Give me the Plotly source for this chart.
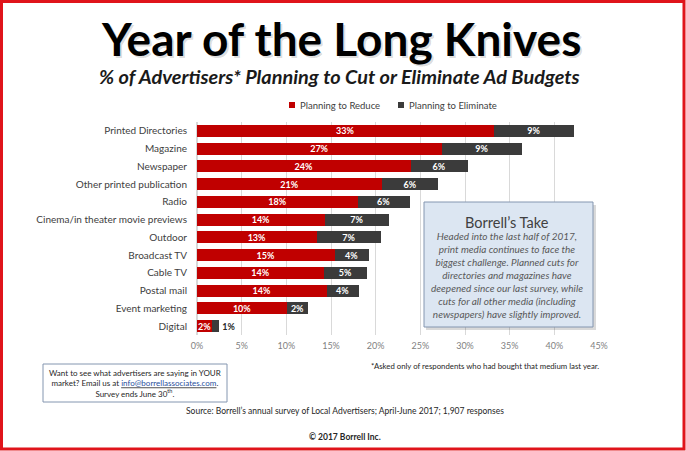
import plotly.graph_objects as go

media = [
    "Printed Directories",
    "Magazine",
    "Newspaper",
    "Other printed publication",
    "Radio",
    "Cinema/in theater movie previews",
    "Outdoor",
    "Broadcast TV",
    "Cable TV",
    "Postal mail",
    "Event marketing",
    "Digital",
]
# % planning to reduce / eliminate (bar lengths)
reduce_pct = [33.2, 27.4, 23.9, 20.7, 18.0, 14.3, 13.4, 15.4, 14.2, 14.5, 10.1, 1.7]
eliminate_pct = [9.0, 9.0, 6.4, 6.3, 5.8, 7.2, 7.2, 3.8, 4.8, 3.6, 2.3, 0.8]

x_ticks = [0, 5, 10, 15, 20, 25, 30, 35, 40, 45]
x_tick_labels = [f"{t}%" for t in x_ticks]

RED = "#c00000"
DARK = "#3b3b3b"
FONT = "Lato"

W, H = 686, 451
L, R, T, B = 197, 87, 122, 116
PW, PH = W - L - R, H - T - B


def px(x):
    return (x - L) / PW


def py(y):
    return (H - B - y) / PH


def note(text, x, y, xanchor="center", **font):
    fig.add_annotation(
        text=text,
        xref="paper", yref="paper",
        x=px(x), y=py(y),
        xanchor=xanchor, yanchor="middle",
        showarrow=False,
        align="center",
        font=dict(family=FONT, **font),
    )


def box(x0, y0, x1, y1, **kw):
    fig.add_shape(
        type="rect", xref="paper", yref="paper",
        x0=px(x0), x1=px(x1), y0=py(y0), y1=py(y1), **kw,
    )


fig = go.Figure()
fig.add_trace(
    go.Bar(
        name="Planning to Reduce",
        y=media,
        x=reduce_pct,
        orientation="h",
        marker=dict(color=RED, line=dict(width=0)),
        text=[f"{round(v)}%" for v in reduce_pct],
        textposition="inside",
        insidetextanchor="middle",
        textangle=0,
        constraintext="none",
        textfont=dict(color="white", size=9, family=FONT, weight="bold"),
        showlegend=False,
    )
)
fig.add_trace(
    go.Bar(
        name="Planning to Eliminate",
        y=media,
        x=eliminate_pct,
        orientation="h",
        marker=dict(color=DARK, line=dict(width=0)),
        text=[f"{round(v)}%" for v in eliminate_pct],
        textposition=["inside"] * (len(media) - 1) + ["outside"],
        insidetextanchor="middle",
        textangle=0,
        constraintext="none",
        insidetextfont=dict(color="white", size=9, family=FONT, weight="bold"),
        outsidetextfont=dict(color="#262626", size=9, family=FONT, weight="bold"),
        cliponaxis=False,
        showlegend=False,
    )
)

fig.update_layout(
    width=W,
    height=H,
    margin=dict(l=L, r=R, t=T, b=B),
    barmode="stack",
    bargap=0.33,
    paper_bgcolor="white",
    plot_bgcolor="white",
    font=dict(family=FONT, color="#404040"),
)
fig.update_xaxes(
    range=[0, 45],
    tickmode="array",
    tickvals=x_ticks,
    ticktext=x_tick_labels,
    showgrid=True,
    gridcolor="#d9d9d9",
    gridwidth=1,
    zeroline=True,
    zerolinecolor="#d9d9d9",
    tickfont=dict(size=9, color="#7f7f7f"),
    ticklabelstandoff=4,
    automargin=False,
)
fig.update_yaxes(
    autorange="reversed",
    tickfont=dict(size=10, color="#404040"),
    ticklabelstandoff=9,
    showgrid=False,
    automargin=False,
)

# legend (drawn by hand to get the small Excel-style keys)
box(289, 102, 295, 108, fillcolor=RED, line=dict(width=0))
note("Planning to Reduce", 298, 105, xanchor="left", size=9.5, color="#404040")
box(398, 102, 404, 108, fillcolor=DARK, line=dict(width=0))
note("Planning to Eliminate", 407, 105, xanchor="left", size=9.5, color="#404040")

# title with a soft shadow
note("Year of the Long Knives", 342.5, 40.5, size=46, color="rgba(0,0,0,0.15)", weight="bold")
note("Year of the Long Knives", 341, 38, size=46, color="black", weight="bold")
note("% of Advertisers* Planning to Cut or Eliminate Ad Budgets", 339, 76,
     size=19.9, color="#1a1a1a", weight="bold", style="italic")

# Borrell's Take box
box(426, 205, 596, 330, fillcolor="rgba(0,0,0,0.15)", line=dict(width=0), layer="above")
box(424, 202, 593, 327, fillcolor="#dce6f2", line=dict(color="#8496b0", width=1), layer="above")
note("Borrell\u2019s Take", 507, 222, size=14.5, color="#404040")
note(
    "Headed into the last half of 2017,<br>"
    "print media continues to face the<br>"
    "biggest challenge. Planned cuts for<br>"
    "directories and magazines have<br>"
    "deepened since our last survey, while<br>"
    "cuts for all other media (including<br>"
    "newspapers) have slightly improved.",
    507, 274.5, size=10, color="#595959", style="italic",
)

# bottom-left call out box
box(43, 364, 227, 402, fillcolor="white", line=dict(color="#8496b0", width=1))
note(
    "Want to see what advertisers are saying in YOUR<br>"
    "market? Email us at <u><span style='color:#1f4e9c'>info@borrellassociates.com</span></u>.<br>"
    "Survey ends June 30<sup>th</sup>.",
    135, 383, size=8, color="#262626",
)

note("*Asked only of respondents who had bought that medium last year.", 485, 366,
     size=7.8, color="#262626")
note("Source: Borrell\u2019s annual survey of Local Advertisers; April-June 2017; 1,907 responses",
     345, 411, size=8.5, color="#262626")
note("\u00a9 2017 Borrell Inc.", 345, 437, size=8.5, color="#262626", weight="bold")

# red frame around the whole picture
box(1.5, 1.5, 684, 449, fillcolor="rgba(0,0,0,0)", line=dict(color="#e0141b", width=3))

fig.write_html(
    "out.html",
    config={"displayModeBar": False},
    post_script="document.body.style.margin='0';document.body.style.overflow='hidden';",
)
